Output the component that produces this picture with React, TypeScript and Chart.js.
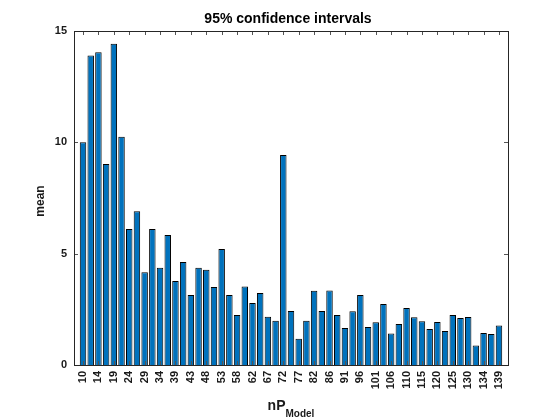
import React, { useEffect, useRef } from "react";
import { Chart, registerables } from "chart.js";

Chart.register(...registerables);

const titleText = "95% confidence intervals";
const yLabel = "mean";
const xLabelMain = "nP";
const xLabelSub = "Model";

const xTickLabels = [
  "10", "14", "19", "24", "29", "34", "39", "43", "48", "53", "58", "62", "67", "72",
  "77", "82", "86", "91", "96", "101", "106", "110", "115", "120", "125", "130", "134", "139",
];

const meanValues = [
  10.0, 13.9, 14.05, 9.03, 14.43, 10.25, 6.11, 6.9, 4.16, 6.11,
  4.37, 5.84, 3.77, 4.63, 3.14, 4.37, 4.28, 3.5, 5.21, 3.14,
  2.25, 3.53, 2.78, 3.23, 2.17, 1.99, 9.43, 2.43, 1.18, 1.99,
  3.34, 2.43, 3.35, 2.25, 1.66, 2.41, 3.14, 1.71, 1.92, 2.74,
  1.42, 1.84, 2.56, 2.14, 1.96, 1.62, 1.93, 1.53, 2.25, 2.11,
  2.16, 0.88, 1.44, 1.39, 1.77,
];

const yTicks = [0, 5, 10, 15];

const FONT = "'Liberation Sans', Arial, Helvetica, sans-serif";
const TEXT = "#1a1a1a";

const matlabAxes = {
  id: "matlabAxes",
  afterDatasetsDraw(chart: any) {
    const { ctx, chartArea: a, scales } = chart;
    const tl = 4;
    ctx.save();
    ctx.strokeStyle = "#555555";
    ctx.lineWidth = 1;
    ctx.beginPath();
    for (const t of scales.x.ticks) {
      const px = Math.round(scales.x.getPixelForValue(t.value)) + 0.5;
      ctx.moveTo(px, a.bottom);
      ctx.lineTo(px, a.bottom - tl);
      ctx.moveTo(px, a.top);
      ctx.lineTo(px, a.top + tl);
    }
    for (const v of yTicks) {
      const py = Math.round(scales.y.getPixelForValue(v)) + 0.5;
      ctx.moveTo(a.left, py);
      ctx.lineTo(a.left + tl, py);
      ctx.moveTo(a.right, py);
      ctx.lineTo(a.right - tl, py);
    }
    ctx.stroke();
    ctx.strokeStyle = "#262626";
    ctx.strokeRect(Math.round(a.left) + 0.5, Math.round(a.top) + 0.5, Math.round(a.right - a.left), Math.round(a.bottom - a.top));
    ctx.restore();
  },
  afterDraw(chart: any) {
    const { ctx, chartArea: a } = chart;
    const cx = (a.left + a.right) / 2;
    ctx.save();
    ctx.fillStyle = "#000000";
    ctx.textAlign = "center";
    ctx.textBaseline = "alphabetic";
    ctx.font = `bold 14px ${FONT}`;
    ctx.fillText(titleText, cx - 3, 23);

    // y label
    ctx.fillStyle = TEXT;
    ctx.font = `bold 12px ${FONT}`;
    ctx.save();
    ctx.translate(44, (a.top + a.bottom) / 2 + 3);
    ctx.rotate(-Math.PI / 2);
    ctx.textAlign = "center";
    ctx.fillText(yLabel, 0, 0);
    ctx.restore();

    // x label with subscript
    ctx.font = `bold 14px ${FONT}`;
    const w1 = ctx.measureText(xLabelMain).width;
    ctx.font = `bold 10px ${FONT}`;
    const w2 = ctx.measureText(xLabelSub).width;
    const start = cx - (w1 + w2) / 2;
    ctx.textAlign = "left";
    ctx.font = `bold 14px ${FONT}`;
    ctx.fillText(xLabelMain, start, 410);
    ctx.font = `bold 10px ${FONT}`;
    ctx.fillText(xLabelSub, start + w1, 417);
    ctx.restore();
  },
};

export default function App() {
  const ref = useRef<HTMLCanvasElement | null>(null);
  useEffect(() => {
    document.body.style.margin = "0";
    const data = meanValues.map((v, i) => ({ x: i + 1, y: v }));
    const chart = new Chart(ref.current as HTMLCanvasElement, {
      type: "bar",
      data: {
        datasets: [
          {
            data: data as any,
            backgroundColor: "#0072BD",
            borderColor: "#000000",
            borderWidth: 1,
            barPercentage: 0.84,
            categoryPercentage: 1,
          },
        ],
      },
      plugins: [matlabAxes],
      options: {
        animation: false,
        responsive: false,
        maintainAspectRatio: false,
        layout: { padding: { left: 0, right: 52, top: 31, bottom: 0 } },
        plugins: { legend: { display: false }, tooltip: { enabled: false }, title: { display: false } },
        scales: {
          x: {
            type: "linear",
            offset: false,
            min: -0.17,
            max: 56.17,
            grid: { display: false, drawTicks: false },
            border: { display: false },
            afterBuildTicks: (scale: any) => {
              scale.ticks = xTickLabels.map((_, k) => ({ value: 1 + 2 * k }));
            },
            afterFit: (scale: any) => {
              scale.height = 55;
            },
            ticks: {
              autoSkip: false,
              maxRotation: 90,
              minRotation: 90,
              padding: 6,
              color: TEXT,
              font: { family: FONT, size: 11, weight: "bold" },
              callback: (value: any) => xTickLabels[(Number(value) - 1) / 2] ?? "",
            },
          },
          y: {
            min: 0,
            max: 15,
            grid: { display: false, drawTicks: false },
            border: { display: false },
            afterBuildTicks: (scale: any) => {
              scale.ticks = yTicks.map((v) => ({ value: v }));
            },
            afterFit: (scale: any) => {
              scale.width = 74;
            },
            ticks: {
              padding: 7,
              color: TEXT,
              font: { family: FONT, size: 11, weight: "bold" },
            },
          },
        },
      },
    });
    return () => chart.destroy();
  }, []);
  return (
    <div style={{ position: "fixed", left: 0, top: 0, width: 560, height: 420, background: "#fff" }}>
      <canvas ref={ref} width={560} height={420} style={{ width: 560, height: 420 }} />
    </div>
  );
}
